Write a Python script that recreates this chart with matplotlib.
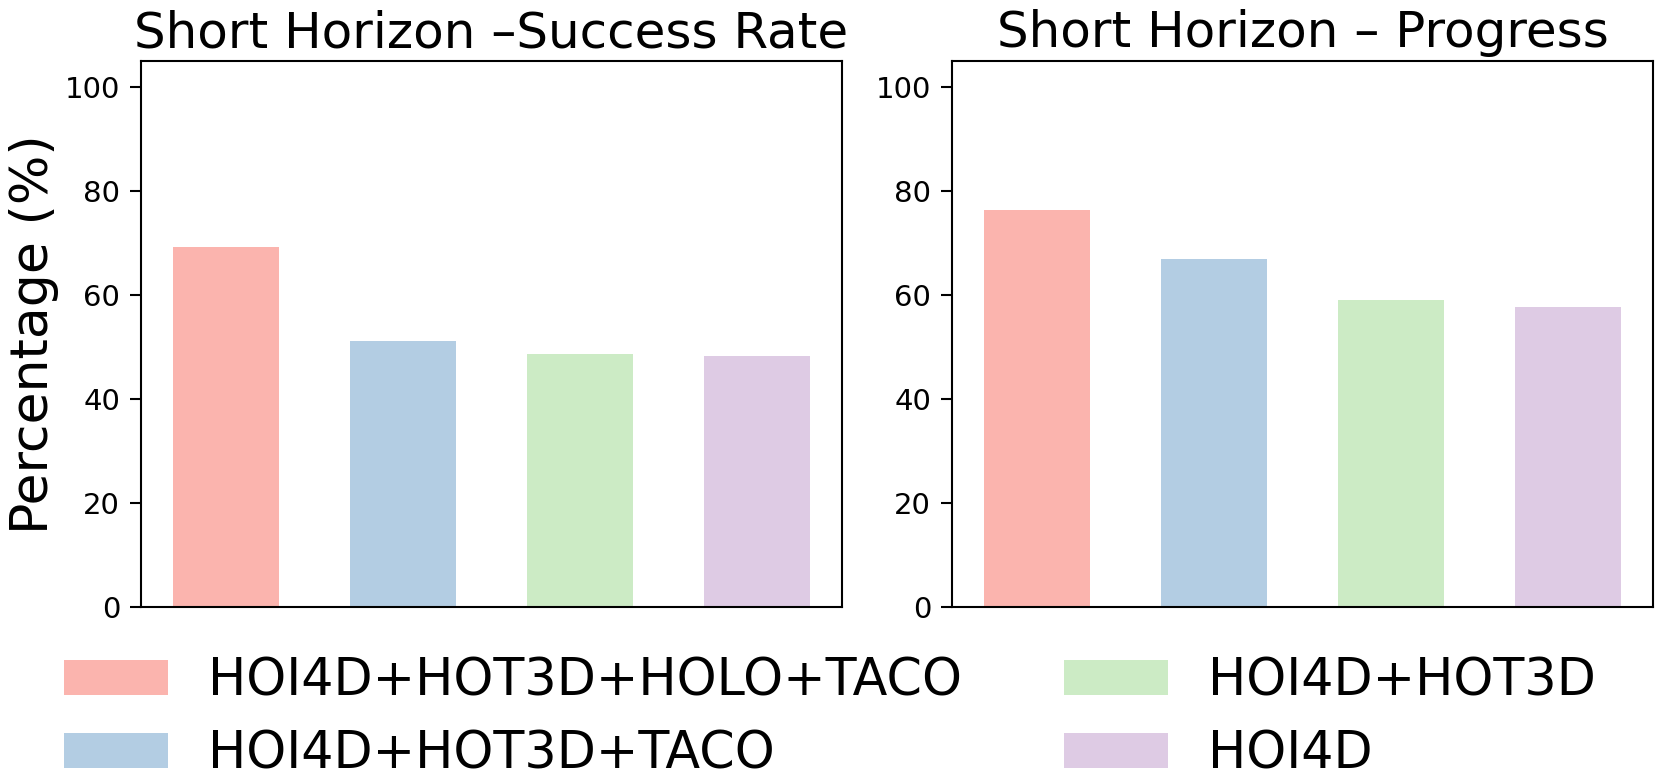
import matplotlib.pyplot as plt

labels = ["HOI4D+HOT3D+HOLO+TACO", "HOI4D+HOT3D+TACO", "HOI4D+HOT3D", "HOI4D"]
colors = ["#fbb4ae", "#b3cde3", "#ccebc5", "#decbe4"]
success_rate = [69.2, 51.1, 48.7, 48.3]
progress = [76.4, 66.9, 59.1, 57.7]
titles = ["Short Horizon \u2013Success Rate", "Short Horizon \u2013 Progress"]

fig = plt.figure(figsize=(16.6, 7.82), dpi=100)
ax1 = fig.add_axes([0.0849, 0.2235, 0.4223, 0.6985])
ax2 = fig.add_axes([0.5735, 0.2235, 0.4223, 0.6985])

x = range(len(labels))
for ax, vals, title in zip([ax1, ax2], [success_rate, progress], titles):
    bars = ax.bar(x, vals, width=0.6, color=colors)
    ax.set_ylim(0, 105)
    ax.set_xticks([])
    ax.set_title(title, fontsize=36, pad=10)
    ax.tick_params(axis='y', labelsize=21, length=8, width=1.5, pad=7)
    for s in ax.spines.values():
        s.set_linewidth(1.5)

ax1.set_ylabel("Percentage (%)", fontsize=37.5)

fig.legend(bars, labels, loc='center', bbox_to_anchor=(0.5, 0.082), ncol=2,
           frameon=False, fontsize=36.5, handlelength=2.05, handleheight=0.7,
           columnspacing=2.0, labelspacing=0.45)

fig.savefig("out.png", dpi=100)
